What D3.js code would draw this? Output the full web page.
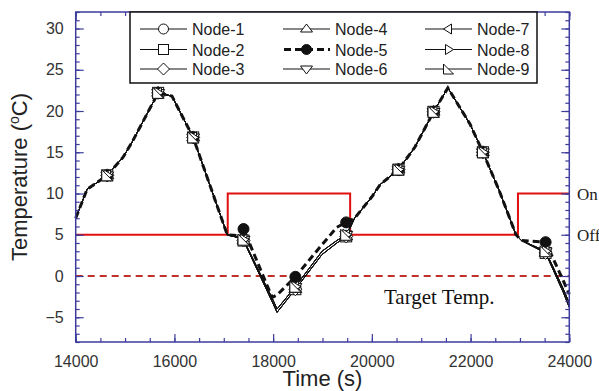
<!DOCTYPE html>
<html><head><meta charset="utf-8">
<script src="https://cdn.jsdelivr.net/npm/d3@7"></script>
<style>
html,body{margin:0;padding:0;background:#fff;}
svg{display:block;font-family:"Liberation Sans",Arial,sans-serif;}
</style></head>
<body>
<svg id="chart" width="599" height="391"></svg>
<script>
// ---------- data ----------
const times = [14000,14230,14640,14960,15140,15670,15950,16380,17070,17270,17400,17980,18080,18450,18990,19290,19480,19650,20000,20170,20540,20870,21250,21540,21990,22250,22570,22920,23030,23520,23880,24000];
const thinLow  = [7.0,10.5,12.2,14.4,16.2,22.2,21.8,16.8,5.0,4.7,4.3,-3.1,-4.4,-1.6,2.6,4.0,4.8,7.0,9.6,11.1,12.9,15.6,19.9,22.8,18.4,15.0,10.5,5.0,4.3,2.8,-2.0,-3.8];
const thinHigh = [7.0,10.5,12.2,14.4,16.2,22.2,21.8,16.8,5.0,4.7,4.4,-2.7,-4.0,-1.3,3.0,4.3,5.0,7.0,9.6,11.1,12.9,15.6,19.9,22.8,18.4,15.0,10.5,5.0,4.3,3.0,-1.6,-3.3];
const node5Vals = [7.0,10.5,12.2,14.4,16.2,22.2,21.8,16.8,5.0,4.9,5.7,-2.6,-2.3,-0.1,3.8,5.9,6.5,7.0,9.6,11.1,12.9,15.6,19.9,22.8,18.4,15.0,10.5,5.0,4.3,4.1,-0.6,-2.2];
const markerTimes = [14640,15670,16380,17400,18450,19480,20540,21250,22250,23520];
const nodeNames = ["Node-1","Node-2","Node-3","Node-4","Node-5","Node-6","Node-7","Node-8","Node-9"];
const nodeShapes = ["circle","square","diamond","up","dot","down","left","right","rtri"];
const nodeData = [thinLow,thinLow,thinLow,thinLow,node5Vals,thinHigh,thinHigh,thinHigh,thinHigh];
const heaterTimes = [14000,17080,17080,19560,19560,22960,22960,24000];
const heaterVals  = [5,5,10,10,5,5,10,10];
const targetTemp = 0;
const xTicks = [14000,16000,18000,20000,22000,24000];
const yTicks = [-5,0,5,10,15,20,25,30];
const xMinorStep = 500, yMinorStep = 1;

// ---------- layout ----------
const svg = d3.select("#chart");
const L = 75.7, R = 569.3, T = 12, B = 342;
const x = d3.scaleLinear().domain([14000,24000]).range([L,R]);
const y = d3.scaleLinear().domain([-8,32]).range([B,T]);
const axisCol = "#3c3c9c";
const txtCol = "#333";

// heater & target lines
const lineGen = d3.line().x(d=>x(d[0])).y(d=>y(d[1]));
svg.append("path").attr("d", lineGen(heaterTimes.map((t,i)=>[t,heaterVals[i]])))
  .attr("fill","none").attr("stroke","#e01010").attr("stroke-width",2);
svg.append("path").attr("d", lineGen([[14000,targetTemp],[24000,targetTemp]]))
  .attr("fill","none").attr("stroke","#c0302c").attr("stroke-width",2).attr("stroke-dasharray","7,5");

// node lines
nodeData.forEach((vals,i)=>{
  if(i===4) return;
  svg.append("path").attr("d", lineGen(times.map((t,j)=>[t,vals[j]])))
    .attr("fill","none").attr("stroke","#111").attr("stroke-width",1);
});
svg.append("path").attr("d", lineGen(times.map((t,j)=>[t,node5Vals[j]])))
  .attr("fill","none").attr("stroke","#111").attr("stroke-width",3).attr("stroke-dasharray","7,4");

// marker drawing
function drawMarker(g, shape, cx, cy, s){
  const h = s/2;
  let el;
  switch(shape){
    case "circle": el = g.append("circle").attr("cx",cx).attr("cy",cy).attr("r",h); break;
    case "dot": el = g.append("circle").attr("cx",cx).attr("cy",cy).attr("r",h); break;
    case "square": el = g.append("rect").attr("x",cx-h).attr("y",cy-h).attr("width",s).attr("height",s); break;
    case "diamond": el = g.append("path").attr("d",`M${cx},${cy-h-1}L${cx+h+1},${cy}L${cx},${cy+h+1}L${cx-h-1},${cy}Z`); break;
    case "up": el = g.append("path").attr("d",`M${cx},${cy-h}L${cx+h+1},${cy+h*0.6}L${cx-h-1},${cy+h*0.6}Z`); break;
    case "down": el = g.append("path").attr("d",`M${cx},${cy+h}L${cx+h+1},${cy-h*0.6}L${cx-h-1},${cy-h*0.6}Z`); break;
    case "left": el = g.append("path").attr("d",`M${cx-h},${cy}L${cx+h*0.6},${cy-h}L${cx+h*0.6},${cy+h}Z`); break;
    case "right": el = g.append("path").attr("d",`M${cx+h},${cy}L${cx-h*0.6},${cy-h}L${cx-h*0.6},${cy+h}Z`); break;
    case "rtri": el = g.append("path").attr("d",`M${cx-h},${cy-h}L${cx+h},${cy+h}L${cx-h},${cy+h}Z`); break;
  }
  el.attr("fill", shape==="dot" ? "#111" : "#fff").attr("stroke","#111").attr("stroke-width",1);
}
const mg = svg.append("g");
nodeData.forEach((vals,i)=>{
  markerTimes.forEach(mt=>{
    const j = times.indexOf(mt);
    const v = j>=0 ? vals[j] : d3.scaleLinear().domain(times).range(vals)(mt);
    drawMarker(mg, nodeShapes[i], x(mt), y(v), 11);
  });
});

// ---------- axes ----------
function styleAxis(g){
  g.select(".domain").remove();
  g.selectAll("line").attr("stroke",axisCol).attr("stroke-width",1.2);
  g.selectAll("text").attr("fill",txtCol).attr("font-size",16);
}
const xMinor = d3.range(14000,24001,xMinorStep);
const yMinor = d3.range(-8,33,yMinorStep);
svg.append("g").attr("transform",`translate(0,${B})`).call(d3.axisBottom(x).tickValues(xMinor).tickSize(-4).tickFormat("")).call(styleAxis);
svg.append("g").attr("transform",`translate(0,${B})`).call(d3.axisBottom(x).tickValues(xTicks).tickSize(-8).tickPadding(14).tickFormat(d3.format("d"))).call(styleAxis);
svg.append("g").attr("transform",`translate(0,${T})`).call(d3.axisTop(x).tickValues(xMinor).tickSize(-4).tickFormat("")).call(styleAxis);
svg.append("g").attr("transform",`translate(0,${T})`).call(d3.axisTop(x).tickValues(xTicks).tickSize(-8).tickFormat("")).call(styleAxis);
svg.append("g").attr("transform",`translate(${L},0)`).call(d3.axisLeft(y).tickValues(yMinor).tickSize(-4).tickFormat("")).call(styleAxis);
svg.append("g").attr("transform",`translate(${L},0)`).call(d3.axisLeft(y).tickValues(yTicks).tickSize(-8).tickPadding(12).tickFormat(d3.format("d"))).call(styleAxis);
svg.append("g").attr("transform",`translate(${R},0)`).call(d3.axisRight(y).tickValues(yMinor).tickSize(-4).tickFormat("")).call(styleAxis);
svg.append("g").attr("transform",`translate(${R},0)`).call(d3.axisRight(y).tickValues(yTicks).tickSize(-8).tickFormat("")).call(styleAxis);
svg.append("rect").attr("x",L).attr("y",T).attr("width",R-L).attr("height",B-T)
  .attr("fill","none").attr("stroke",axisCol).attr("stroke-width",1.5);

// axis titles
svg.append("text").attr("x",(L+R)/2).attr("y",386).attr("text-anchor","middle")
  .attr("font-size",22).attr("fill","#222").text("Time (s)");
const yl = svg.append("text").attr("transform",`translate(27,${(T+B)/2}) rotate(-90)`)
  .attr("text-anchor","middle").attr("font-size",22).attr("fill","#222");
yl.append("tspan").text("Temperature (");
yl.append("tspan").attr("font-size",14).attr("dy",-8).text("o");
yl.append("tspan").attr("dy",8).text("C)");

// annotations
svg.append("text").attr("x",577).attr("y",y(10)+6).attr("font-family","'Liberation Serif','Times New Roman',serif")
  .attr("font-size",17).attr("fill","#222").text("On");
svg.append("text").attr("x",577).attr("y",y(5)+6).attr("font-family","'Liberation Serif','Times New Roman',serif")
  .attr("font-size",17).attr("fill","#222").text("Off");
svg.append("text").attr("x",384).attr("y",304).attr("font-family","'Liberation Serif','Times New Roman',serif")
  .attr("font-size",21).attr("fill","#111").text("Target Temp.");

// ---------- legend ----------
const lg = svg.append("g");
lg.append("rect").attr("x",130).attr("y",12).attr("width",407).attr("height",71)
  .attr("fill","#fff").attr("stroke","#111").attr("stroke-width",1.5);
const colX = [140,283,425], rowY = [29,49.5,69];
nodeNames.forEach((n,i)=>{
  const cx = colX[Math.floor(i/3)], cy = rowY[i%3];
  const ln = lg.append("line").attr("x1",cx).attr("x2",cx+47).attr("y1",cy).attr("y2",cy).attr("stroke","#111");
  if(i===4) ln.attr("stroke-width",3).attr("stroke-dasharray","7,4").attr("x1",cx+1);
  else ln.attr("stroke-width",1);
  drawMarker(lg, nodeShapes[i], cx+23.5, cy, 10);
  lg.append("text").attr("x",cx+52).attr("y",cy+6).attr("font-size",16).attr("fill","#222").text(n);
});
</script>
</body></html>
